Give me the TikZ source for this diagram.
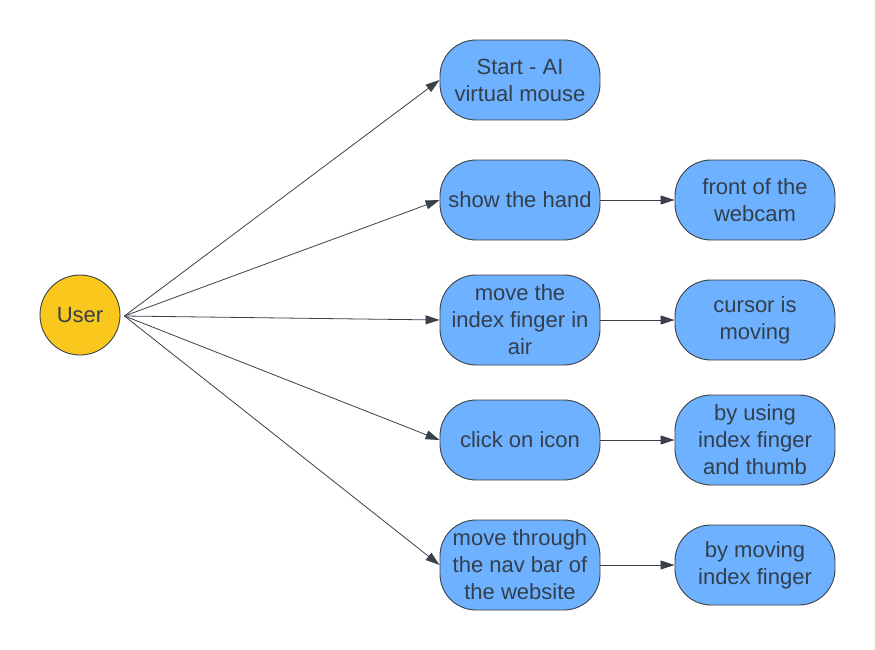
\documentclass[tikz,border=0pt]{standalone}
\usepackage{fontspec}
\setmainfont{Liberation Sans}
\usetikzlibrary{arrows.meta}

\definecolor{boxblue}{HTML}{6DB1FF}
\definecolor{useryellow}{HTML}{FAC81C}
\definecolor{edgegray}{HTML}{3A414A}
\definecolor{textgray}{HTML}{333F4D}

\tikzset{
  stepbox/.style={draw=edgegray, line width=0.9pt, fill=boxblue, rounded corners=36pt,
    minimum width=160pt, minimum height=80pt, align=center, text=textgray,
    font=\fontsize{22}{27}\selectfont, inner sep=2pt},
  userdot/.style={circle, draw=edgegray, line width=0.9pt, fill=useryellow,
    minimum size=80pt, text=textgray, font=\fontsize{22}{27}\selectfont},
  link/.style={draw=edgegray, line width=0.8pt, -{Triangle[length=14pt,width=9pt]}}
}

\begin{document}
\begin{tikzpicture}[x=1pt,y=-1pt]

% Page frame
\useasboundingbox[fill=white] (0,0) rectangle (875,650);

% User
\node[userdot] (user) at (80,315) {User};

% Actions
\node[stepbox] (start) at (520,80) {Start - AI\\virtual mouse};
\node[stepbox] (hand) at (520,200) {show the hand};
\node[stepbox, minimum height=90pt] (move) at (520,320) {move the\\index finger in\\air};
\node[stepbox] (click) at (520,440) {click on icon};
\node[stepbox, minimum height=90pt] (nav) at (520,565) {move through\\the nav bar of\\the website};

% Results
\node[stepbox] (webcam) at (755,200) {front of the\\webcam};
\node[stepbox] (cursor) at (755,320) {cursor is\\moving};
\node[stepbox, minimum height=90pt] (thumb) at (755,440) {by using\\index finger\\and thumb};
\node[stepbox] (finger) at (755,565) {by moving\\index finger};

% User to actions
\coordinate (hub) at ([xshift=4pt,yshift=-1pt]user.east);
\draw[link] (hub) -- (start.west);
\draw[link] (hub) -- (hand.west);
\draw[link] (hub) -- (move.west);
\draw[link] (hub) -- (click.west);
\draw[link] (hub) -- (nav.west);

% Actions to results
\draw[link] (hand) -- (webcam);
\draw[link] (move) -- (cursor);
\draw[link] (click) -- (thumb);
\draw[link] (nav) -- (finger);

\end{tikzpicture}
\end{document}
